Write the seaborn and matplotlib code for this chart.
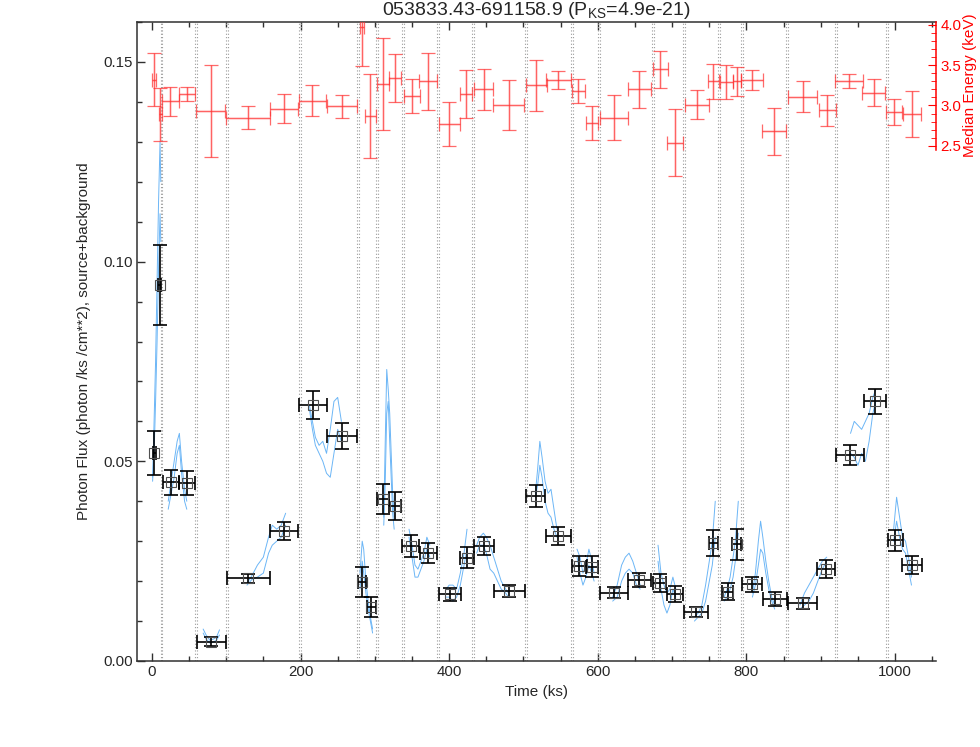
import numpy as np
import pandas as pd
import seaborn as sns
import matplotlib
matplotlib.use('Agg')
import matplotlib.pyplot as plt
from matplotlib.ticker import MultipleLocator, FormatStrFormatter, FixedLocator

# Flux per time bin (black points)
t_flux = [3, 10.5, 26, 47, 80, 130, 178, 217, 256, 283, 295.5, 311, 327, 348.5, 372,
          401, 423.5, 447, 481, 516.5, 547, 575, 592, 622, 656, 683, 704, 732, 755.5,
          774.5, 787, 808, 838, 876, 907, 939.5, 972.5, 1000, 1022.5]
t_flux_err = [2, 2, 11, 10.5, 19.5, 29.5, 18.5, 18.5, 20.5, 5, 6.5, 8, 8.5, 11.5, 11.5,
              14.5, 9.5, 13.5, 21, 13, 17, 10, 8, 19, 15, 9, 10.8, 15.7, 6,
              8, 6, 13.5, 16, 19.5, 12.3, 18.4, 14.6, 10, 13.5]
flux = [0.0520, 0.0941, 0.0447, 0.0445, 0.0048, 0.0207, 0.0325, 0.0642, 0.0564, 0.0198,
        0.0135, 0.0405, 0.0388, 0.0288, 0.0270, 0.0167, 0.0259, 0.0288, 0.0175, 0.0413,
        0.0313, 0.0238, 0.0236, 0.0171, 0.0203, 0.0196, 0.0167, 0.0123, 0.0295, 0.0174,
        0.0292, 0.0192, 0.0155, 0.0144, 0.0230, 0.0516, 0.0650, 0.0302, 0.0240]
flux_err = [0.0055, 0.0100, 0.0031, 0.0030, 0.0011, 0.0012, 0.0022, 0.0035, 0.0032, 0.0038,
            0.0026, 0.0037, 0.0036, 0.0027, 0.0025, 0.0016, 0.0027, 0.0023, 0.0015, 0.0028,
            0.0022, 0.0025, 0.0026, 0.0014, 0.0017, 0.0023, 0.0020, 0.0013, 0.0033, 0.0022,
            0.0038, 0.0018, 0.0017, 0.0014, 0.0023, 0.0025, 0.0032, 0.0027, 0.0022]

# Median energy per bin (red points, right axis)
t_en = [3, 11, 24.5, 47.5, 79.5, 129.5, 177.5, 216, 255.5, 283, 294, 311, 327, 350, 372,
        400, 422.5, 446.5, 480, 517, 547, 574, 592, 622, 656, 684, 704, 733, 755.5,
        773, 787, 807, 837, 875.5, 909, 937.5, 971, 998, 1022.5]
t_en_err = [3, 2, 11.5, 10.5, 19.5, 29.5, 18.5, 18.5, 20.5, 2.5, 7, 8, 8, 11, 12,
            14, 8.5, 13, 21, 14, 17, 9.4, 8.3, 19, 15.7, 10, 11, 16, 7.4,
            9, 5.4, 15, 15.7, 20, 10.8, 19, 15, 10.8, 12.4]
energy = [3.32, 2.89, 3.05, 3.14, 2.93, 2.85, 2.96, 3.06, 2.99, 3.98, 2.87, 3.27, 3.34,
          3.12, 3.30, 2.77, 3.14, 3.20, 3.01, 3.25, 3.32, 3.18, 2.78, 2.85, 3.20, 3.45,
          2.54, 3.01, 3.30, 3.29, 3.30, 3.32, 2.68, 3.11, 2.94, 3.30, 3.16, 2.92, 2.90]
energy_err = [0.33, 0.33, 0.18, 0.09, 0.57, 0.14, 0.18, 0.19, 0.14, 0.49, 0.52, 0.57, 0.30,
              0.21, 0.35, 0.27, 0.30, 0.25, 0.31, 0.32, 0.11, 0.145, 0.21, 0.28, 0.23, 0.23,
              0.42, 0.18, 0.22, 0.21, 0.18, 0.126, 0.295, 0.197, 0.19, 0.087, 0.166, 0.16, 0.286]

# Observation gaps (dotted pairs)
gap_start = [11.7, 58.7, 99.3, 197.7, 275.7, 301.3, 336.7, 383.7, 430.7, 501.7,
             563.7, 600.7, 673.2, 714.7, 761.7, 792.7, 853.7, 918.7, 988.2]
gap_end = [14.3, 61.3, 101.9, 200.3, 278.3, 303.9, 339.3, 386.3, 433.3, 504.3,
           566.3, 603.3, 675.8, 717.3, 764.3, 795.3, 856.3, 921.3, 990.8]

# Smoothed flux traces (blue), two per segment
blue_t = [
    [1, 3, 5, 7, 9, 11, 12],
    [22, 26, 30, 34, 37, 40, 44, 47],
    [69, 73, 78, 83, 87, 91],
    [128, 135, 142, 150, 157, 162, 168, 174, 180],
    [212, 216, 220, 225, 230, 235, 240, 245, 250, 255],
    [280, 283, 285, 288, 291, 294, 297],
    [312, 314, 316, 318, 320, 322, 324, 326],
    [346, 350, 354, 358, 362, 366, 370, 374],
    [396, 400, 405, 410, 415, 420, 424],
    [437, 441, 446, 450, 455, 460, 465, 470, 476, 480],
    [516, 519, 522, 525, 529, 533, 537, 541, 545],
    [572, 576, 580, 584, 588, 592, 595],
    [620, 626, 632, 637, 642, 647, 652, 657],
    [681, 685, 689, 693, 697, 701, 705],
    [730, 735, 740, 745, 750, 754, 758],
    [770, 774, 778, 782, 785, 789],
    [808, 812, 816, 819, 822, 826, 830, 834, 838],
    [872, 878, 884, 890, 896, 902, 908],
    [940, 945, 950, 955, 960, 965, 970, 974],
    [998, 1002, 1006, 1010, 1014, 1018, 1022],
]
blue_upper = [
    [0.046, 0.060, 0.075, 0.095, 0.115, 0.130, 0.120],
    [0.040, 0.045, 0.050, 0.055, 0.057, 0.050, 0.043, 0.040],
    [0.0080, 0.0065, 0.0052, 0.0055, 0.0060, 0.0078],
    [0.0195, 0.0215, 0.024, 0.026, 0.031, 0.034, 0.033, 0.034, 0.037],
    [0.064, 0.060, 0.056, 0.054, 0.055, 0.052, 0.058, 0.065, 0.066, 0.060],
    [0.022, 0.030, 0.028, 0.020, 0.015, 0.011, 0.008],
    [0.036, 0.055, 0.073, 0.068, 0.062, 0.052, 0.042, 0.036],
    [0.033, 0.029, 0.024, 0.023, 0.025, 0.027, 0.031, 0.029],
    [0.018, 0.019, 0.019, 0.018, 0.022, 0.027, 0.033],
    [0.029, 0.031, 0.032, 0.031, 0.029, 0.026, 0.023, 0.020, 0.018, 0.017],
    [0.042, 0.048, 0.055, 0.051, 0.045, 0.042, 0.043, 0.038, 0.033],
    [0.028, 0.026, 0.022, 0.024, 0.028, 0.025, 0.022],
    [0.016, 0.019, 0.024, 0.026, 0.027, 0.025, 0.022, 0.019],
    [0.029, 0.022, 0.019, 0.017, 0.018, 0.021, 0.018],
    [0.011, 0.012, 0.014, 0.019, 0.025, 0.030, 0.040],
    [0.016, 0.018, 0.021, 0.026, 0.030, 0.040],
    [0.017, 0.022, 0.030, 0.035, 0.031, 0.025, 0.020, 0.016, 0.014],
    [0.014, 0.017, 0.019, 0.021, 0.023, 0.025, 0.026],
    [0.057, 0.060, 0.059, 0.058, 0.060, 0.062, 0.066, 0.068],
    [0.033, 0.041, 0.036, 0.031, 0.030, 0.026, 0.021],
]
blue_lower = [
    [0.045, 0.052, 0.065, 0.080, 0.098, 0.112, 0.105],
    [0.038, 0.042, 0.046, 0.052, 0.054, 0.047, 0.040, 0.038],
    [0.0070, 0.0055, 0.0045, 0.0048, 0.0052, 0.0065],
    [0.0190, 0.0205, 0.021, 0.022, 0.027, 0.029, 0.030, 0.031, 0.034],
    [0.063, 0.058, 0.054, 0.052, 0.050, 0.047, 0.046, 0.052, 0.058, 0.055],
    [0.018, 0.025, 0.022, 0.017, 0.013, 0.010, 0.007],
    [0.034, 0.045, 0.062, 0.065, 0.055, 0.046, 0.037, 0.033],
    [0.031, 0.026, 0.021, 0.021, 0.023, 0.025, 0.028, 0.026],
    [0.016, 0.016, 0.015, 0.016, 0.019, 0.024, 0.028],
    [0.027, 0.029, 0.029, 0.027, 0.023, 0.022, 0.020, 0.018, 0.017, 0.016],
    [0.041, 0.044, 0.049, 0.046, 0.040, 0.037, 0.036, 0.033, 0.031],
    [0.026, 0.022, 0.019, 0.021, 0.024, 0.022, 0.020],
    [0.015, 0.016, 0.020, 0.022, 0.023, 0.022, 0.019, 0.018],
    [0.025, 0.018, 0.014, 0.012, 0.014, 0.018, 0.016],
    [0.010, 0.011, 0.012, 0.015, 0.020, 0.024, 0.031],
    [0.015, 0.016, 0.018, 0.021, 0.025, 0.032],
    [0.016, 0.019, 0.024, 0.028, 0.027, 0.022, 0.018, 0.015, 0.013],
    [0.013, 0.014, 0.015, 0.017, 0.020, 0.023, 0.025],
    [0.052, 0.051, 0.049, 0.052, 0.050, 0.055, 0.062, 0.065],
    [0.030, 0.035, 0.031, 0.028, 0.027, 0.023, 0.019],
]

rows = []
for i, ts in enumerate(blue_t):
    for k, vals in enumerate([blue_upper[i], blue_lower[i]]):
        for t, v in zip(ts, vals):
            rows.append({'t': t, 'flux': v, 'trace': 2 * i + k})
blue_df = pd.DataFrame(rows)

sns.set_style('ticks')
plt.rcParams['font.family'] = ['Liberation Sans', 'DejaVu Sans']
plt.rcParams['mathtext.fontset'] = 'custom'
plt.rcParams['mathtext.rm'] = 'Liberation Sans'
plt.rcParams['mathtext.it'] = 'Liberation Sans:italic'

fig = plt.figure(figsize=(9.8, 7.47), dpi=100)
ax = fig.add_axes([137 / 980, 1 - 661 / 747, 799 / 980, 639 / 747])

# gap markers
for g in gap_start + gap_end:
    ax.axvline(g, color='#9a9a9a', ls=(0, (1, 2)), lw=0.8, zorder=1)

sns.lineplot(data=blue_df, x='t', y='flux', units='trace', estimator=None, sort=False,
             color='#6cb6f6', lw=0.7, ax=ax, zorder=2)

ax.errorbar(t_flux, flux, xerr=t_flux_err, yerr=flux_err, fmt='none', ecolor='black',
            elinewidth=1.2, capsize=5, capthick=1.2, zorder=4)
ax.plot(t_flux, flux, 's', mfc='none', mec='#505050', ms=6.5, mew=0.8, zorder=5)

ax.set_xlim(-20, 1055)
ax.set_ylim(0, 0.16)
ax.xaxis.set_major_locator(MultipleLocator(200))
ax.xaxis.set_minor_locator(MultipleLocator(50))
ax.yaxis.set_major_locator(MultipleLocator(0.05))
ax.yaxis.set_minor_locator(MultipleLocator(0.01))
ax.yaxis.set_major_formatter(FormatStrFormatter('%.2f'))
ax.tick_params(which='both', direction='in', top=True, right=False, width=1,
               labelsize=10.8, pad=3, color='#303030')
ax.tick_params(which='major', length=6)
ax.tick_params(which='minor', length=3.5)
ax.spines['right'].set_visible(False)
for s in ['left', 'bottom', 'top']:
    ax.spines[s].set_color('#303030')
    ax.spines[s].set_linewidth(1.1)

ax.set_xlabel('Time (ks)', fontsize=11)
ax.xaxis.set_label_coords(0.5, -0.037)
ax.set_ylabel('Photon Flux (photon /ks /cm**2), source+background', fontsize=11)
ax.yaxis.set_label_coords(-0.057, 0.5)
ax.set_title(r'053833.43-691158.9 (P$_{\rm KS}$=4.9e-21)', fontsize=14, pad=5)

# median energy on the right axis
ax2 = ax.twinx()
ax2.errorbar(t_en, energy, xerr=t_en_err, yerr=energy_err, fmt='none', ecolor='#ff9090',
             elinewidth=2.2, capsize=0, alpha=0.22, zorder=2)
ax2.errorbar(t_en, energy, xerr=t_en_err, yerr=energy_err, fmt='none', ecolor='#ff3030',
             elinewidth=0.9, capsize=5, capthick=0.9, alpha=0.72, zorder=3)
ax2.set_ylim(-3.90, 4.037)
ax2.yaxis.set_major_locator(FixedLocator([2.5, 3.0, 3.5, 4.0]))
ax2.yaxis.set_minor_locator(FixedLocator(np.arange(2.5, 4.01, 0.1)))
ax2.yaxis.set_major_formatter(FormatStrFormatter('%.1f'))
ax2.tick_params(axis='y', which='both', direction='in', colors='red', labelsize=10.8, pad=3)
ax2.tick_params(axis='y', which='major', length=6)
ax2.tick_params(axis='y', which='minor', length=3.5)
for s in ['left', 'top', 'bottom']:
    ax2.spines[s].set_visible(False)
ax2.spines['right'].set_color('red')
ax2.spines['right'].set_linewidth(1.1)
ax2.spines['right'].set_bounds(2.445, 4.037)
ax2.set_ylabel('Median Energy (keV)', color='red', fontsize=11)
ax2.yaxis.set_label_coords(1.034, 0.901)

fig.savefig('out.png', dpi=100)
